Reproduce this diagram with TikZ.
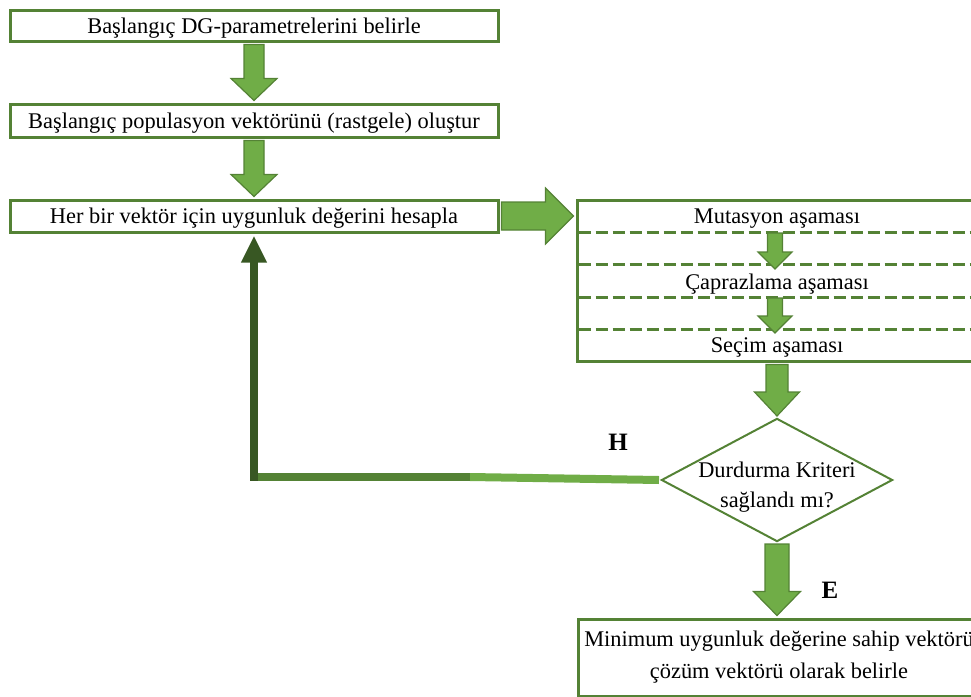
\documentclass[tikz,border=0pt]{standalone}
\usepackage{fontspec}
\setmainfont{Liberation Serif}
\usetikzlibrary{calc,shapes.geometric,arrows.meta}
\definecolor{boxgreen}{RGB}{84,130,53}
\definecolor{arrowgreen}{RGB}{112,173,71}
\definecolor{loopgreen}{RGB}{56,87,35}
\tikzset{
	box/.style={draw=boxgreen,line width=1.5pt,minimum width=244pt,inner sep=0pt,outer sep=1.75pt},
	oneline/.style={text depth=0pt},
	fatarrow/.style={fill=arrowgreen,draw=boxgreen,line width=0.6pt},
	fat/.style n args={3}{to path={
		($(\tikztostart)!#1!90:(\tikztotarget)$)
		-- ($(\tikztotarget)!#3!(\tikztostart)!#1!90:(\tikztotarget)$)
		-- ($(\tikztotarget)!#3!(\tikztostart)!#2!90:(\tikztotarget)$)
		-- (\tikztotarget)
		-- ($(\tikztotarget)!#3!(\tikztostart)!#2!-90:(\tikztotarget)$)
		-- ($(\tikztotarget)!#3!(\tikztostart)!#1!-90:(\tikztotarget)$)
		-- ($(\tikztostart)!#1!-90:(\tikztotarget)$) -- cycle}},
	dashline/.style={draw=boxgreen,line width=1.5pt,dash pattern=on 6pt off 2.5pt,shorten <=2.5pt},
	loopline/.style={line width=4pt},
	answer/.style={font=\fontsize{12.5}{15}\selectfont\bfseries}
}
\begin{document}
\begin{tikzpicture}[x=0.5pt,y=-0.5pt,every node/.style={font=\fontsize{11.2}{16}\selectfont}]
	\useasboundingbox (0,0) rectangle (971,697);
	\node[box,oneline,minimum height=15.5pt] (b1) at (254,25.5) {Başlangıç DG-parametrelerini belirle};
	\node[box,oneline,minimum height=16.5pt] (b2) at (254,120.5) {Başlangıç populasyon vektörünü (rastgele) oluştur};
	\node[box,oneline,minimum height=16pt] (b3) at (254,216) {Her bir vektör için uygunluk değerini hesapla};
	\node[box,minimum width=200pt,minimum height=80.5pt] (stage) at (777,280.5) {};
	\foreach \y in {232,264,297,329}
	\draw[dashline] (stage.west |- 0,\y) -- (stage.east |- 0,\y);
	\node[oneline] (mut) at (777,216.5) {Mutasyon aşaması};
	\node[oneline] (cap) at (777,281.5) {Çaprazlama aşaması};
	\node[oneline] (sec) at (777,345.5) {Seçim aşaması};
	\node[diamond,draw=boxgreen,line width=1pt,minimum width=116pt,minimum height=62pt,
		aspect=1.87,inner sep=0pt,outer sep=1pt] (dec) at (777,480) {};
	\node[align=center,font=\fontsize{11.2}{15}\selectfont] (dectext) at (777,487) {Durdurma Kriteri\\sağlandı mı?};
	\node[box,minimum width=201pt,minimum height=38.5pt,align=center] (fin) at (779,657.5)
		{Minimum uygunluk değerine sahip vektörü\\çözüm vektörü olarak belirle};
	\node[answer] (yes) at (830,590) {E};
	\node[answer] (no) at (618,442) {H};
	\coordinate (m1) at (775,233);
	\coordinate (m2) at (775,269);
	\coordinate (c1) at (775,298);
	\coordinate (c2) at (775,333);
	\coordinate (mid) at (470,477);
	\coordinate (corner) at (254,477);
	% block arrows
	\draw[fatarrow] (b1.south) to[fat={5pt}{11.5pt}{11pt}] (b2.north);
	\draw[fatarrow] (b2.south) to[fat={5pt}{11.5pt}{11pt}] (b3.north);
	\draw[fatarrow] (b3.east) to[fat={7pt}{14pt}{14pt}] (b3.east -| stage.west);
	\foreach \from/\to in {m1/m2,c1/c2}
	\draw[fatarrow] (\from) to[fat={3.75pt}{8.5pt}{8.5pt}] (\to);
	\draw[fatarrow] (stage.south) to[fat={5.5pt}{11.25pt}{12pt}] (dec.north);
	\draw[fatarrow] (dec.south) to[fat={6pt}{11.75pt}{12pt}] (dec.south |- fin.north);
	% return loop
	\draw[loopline,arrowgreen] (dec.west) -- (mid);
	\draw[loopline,boxgreen] (mid) -- (corner);
	\draw[loopline,loopgreen,line cap=rect,-{Triangle[width=12pt,length=13.5pt]}] (corner) -- (b3.south);
\end{tikzpicture}
\end{document}
